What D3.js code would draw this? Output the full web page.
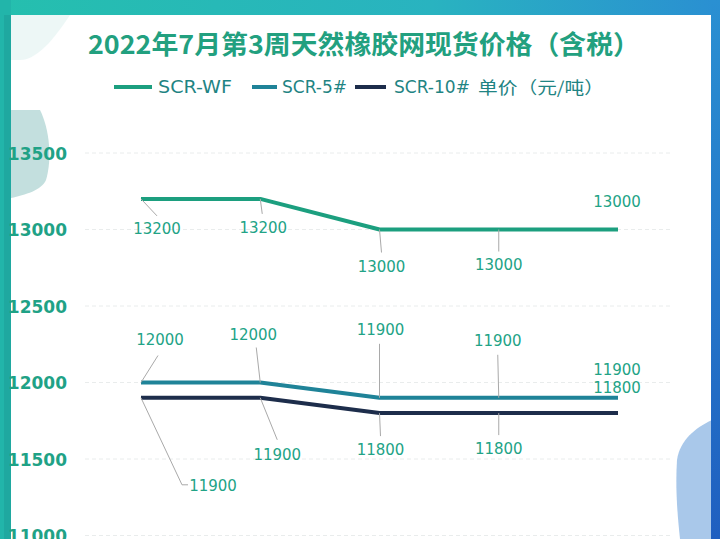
<!DOCTYPE html>
<html><head><meta charset="utf-8">
<script src="https://cdn.jsdelivr.net/npm/d3@7/dist/d3.min.js"></script>
<style>html,body{margin:0;padding:0;background:#fff;}svg{display:block;}</style>
</head><body>
<svg id="c" width="720" height="539"></svg>
<script>
const titleText = "2022年7月第3周天然橡胶网现货价格（含税）";
const unitText = "单价（元/吨）";
const categories = ["第1日", "第2日", "第3日", "第4日", "第5日"];
const seriesNames = ["SCR-WF", "SCR-5#", "SCR-10#"];
const scrWF = [13200, 13200, 13000, 13000, 13000];
const scr5 = [12000, 12000, 11900, 11900, 11900];
const scr10 = [11900, 11900, 11800, 11800, 11800];
const yTicks = [11000, 11500, 12000, 12500, 13000, 13500];

// layout / styling
const colors = ["#1c9f7f", "#1f8398", "#1d2d4b"];
const labelOffsets = [
  [[16, 30, 16, 17], [3, 29, 2, 15], [2, 37, 2, 23], [0, 35, 0, 22], [-1, -28, null, null]],
  [[19, -43, 17, -27], [-7, -48, -4, -35], [1, -68, 0, -54], [-1, -57, -1, -43], [-1, -28.5, null, null]],
  [[72, 88, 41, 87], [17, 57, 17, 42], [1, 36, 1, 23], [0, 35, 0, 22], [-1, -25.5, null, null]]
];
const svg = d3.select("#c");
const W = 720, H = 539;

// frame
const defs = svg.append("defs");
const g1 = defs.append("linearGradient").attr("id", "topg").attr("x1", 0).attr("x2", 1);
g1.append("stop").attr("offset", 0).attr("stop-color", "#25bfae");
g1.append("stop").attr("offset", 0.6).attr("stop-color", "#29b3c0");
g1.append("stop").attr("offset", 1).attr("stop-color", "#2a8fd2");
const g2 = defs.append("linearGradient").attr("id", "rg").attr("x1", 0).attr("x2", 0).attr("y1", 0).attr("y2", 1);
g2.append("stop").attr("offset", 0).attr("stop-color", "#2a90d2");
g2.append("stop").attr("offset", 1).attr("stop-color", "#1f5fc0");

svg.append("rect").attr("x", 0).attr("y", 0).attr("width", W).attr("height", H).attr("fill", "#ffffff");
// decorative light shapes
svg.append("path").attr("d", "M11,110 L40,110 C50,130 52,160 46,180 C42,190 25,195 11,198 Z").attr("fill", "#c3dfde");
svg.append("path").attr("d", "M712,420 C695,428 680,440 677,460 C675,490 678,520 680,539 L712,539 Z").attr("fill", "#a9c8ea");
svg.append("path").attr("d", "M11,15 L70,15 C60,30 40,60 20,60 L11,60 Z").attr("fill", "#e6f3f2").attr("opacity", 0.7);
svg.append("rect").attr("x", 0).attr("y", 0).attr("width", W).attr("height", 15).attr("fill", "url(#topg)");
svg.append("rect").attr("x", 0).attr("y", 0).attr("width", 11).attr("height", H).attr("fill", "#22b5aa");
svg.append("rect").attr("x", 4).attr("y", 15).attr("width", 7).attr("height", H).attr("fill", "#1fa8a0");
svg.append("rect").attr("x", 711).attr("y", 0).attr("width", 9).attr("height", H).attr("fill", "url(#rg)");

// scales
const x = d3.scalePoint().domain(categories).range([141, 618]);
const y = d3.scaleLinear().domain([11000, 13500]).range([535.5, 153]);

// grid
svg.append("g").selectAll("line").data(yTicks).join("line")
  .attr("x1", 85).attr("x2", 670)
  .attr("y1", d => y(d)).attr("y2", d => y(d))
  .attr("stroke", "#e9ecec").attr("stroke-width", 1).attr("stroke-dasharray", "4,3");

// y axis
const yAxis = d3.axisLeft(y).tickValues(yTicks).tickSize(0).tickPadding(0).tickFormat(d3.format("d"));
const ya = svg.append("g").attr("transform", "translate(67,0)").call(yAxis);
ya.select(".domain").remove();
ya.selectAll("text").attr("fill", "#1fa286").attr("font-family", "DejaVu Sans, sans-serif")
  .attr("font-size", 17).attr("font-weight", "bold").attr("dy", "0.36em");

// title
svg.append("text").attr("x", 364).attr("y", 54).attr("text-anchor", "middle")
  .attr("font-family", "Noto Sans CJK SC, sans-serif").attr("font-weight", "bold").attr("font-size", 26)
  .attr("fill", "#22a07f").attr("textLength", 552).attr("lengthAdjust", "spacingAndGlyphs").text(titleText);

// legend
const legPos = [[114, 152, 158, 74], [252, 277, 282, 65], [355, 386, 394, 76]];
seriesNames.forEach((n, i) => {
  const p = legPos[i];
  svg.append("line").attr("x1", p[0]).attr("x2", p[1]).attr("y1", 87).attr("y2", 87)
    .attr("stroke", colors[i]).attr("stroke-width", 4);
  svg.append("text").attr("x", p[2]).attr("y", 93).attr("font-family", "DejaVu Sans, sans-serif")
    .attr("font-size", 17).attr("fill", "#1f8483").attr("textLength", p[3]).attr("lengthAdjust", "spacingAndGlyphs").text(n);
});
svg.append("text").attr("x", 478).attr("y", 94).attr("font-family", "Noto Sans CJK SC, sans-serif")
  .attr("font-size", 17).attr("fill", "#1f8483").attr("textLength", 126).attr("lengthAdjust", "spacingAndGlyphs").text(unitText);

// lines
const allSeries = [scrWF, scr5, scr10];
const line = d3.line().x((d, i) => x(categories[i])).y(d => y(d));
allSeries.forEach((s, si) => {
  svg.append("path").datum(s).attr("d", line).attr("fill", "none")
    .attr("stroke", colors[si]).attr("stroke-width", 4).attr("stroke-linejoin", "round");
});

// labels with leader lines
allSeries.forEach((s, si) => {
  s.forEach((v, i) => {
    const px = x(categories[i]), py = y(v);
    const o = labelOffsets[si][i];
    if (o[2] !== null) {
      let pts = [[px, py], [px + o[2], py + o[3]]];
      if (si === 2 && i === 0) pts.push([px + o[2] + 6, py + o[3]]);
      svg.append("path").attr("d", d3.line()(pts)).attr("fill", "none")
        .attr("stroke", "#a9a9a9").attr("stroke-width", 1);
    }
    svg.append("text").attr("x", px + o[0]).attr("y", py + o[1]).attr("dy", "0.36em")
      .attr("text-anchor", "middle").attr("font-family", "DejaVu Sans, sans-serif")
      .attr("font-size", 15).attr("fill", "#22a386").text(d3.format("d")(v));
  });
});
</script>
</body></html>
